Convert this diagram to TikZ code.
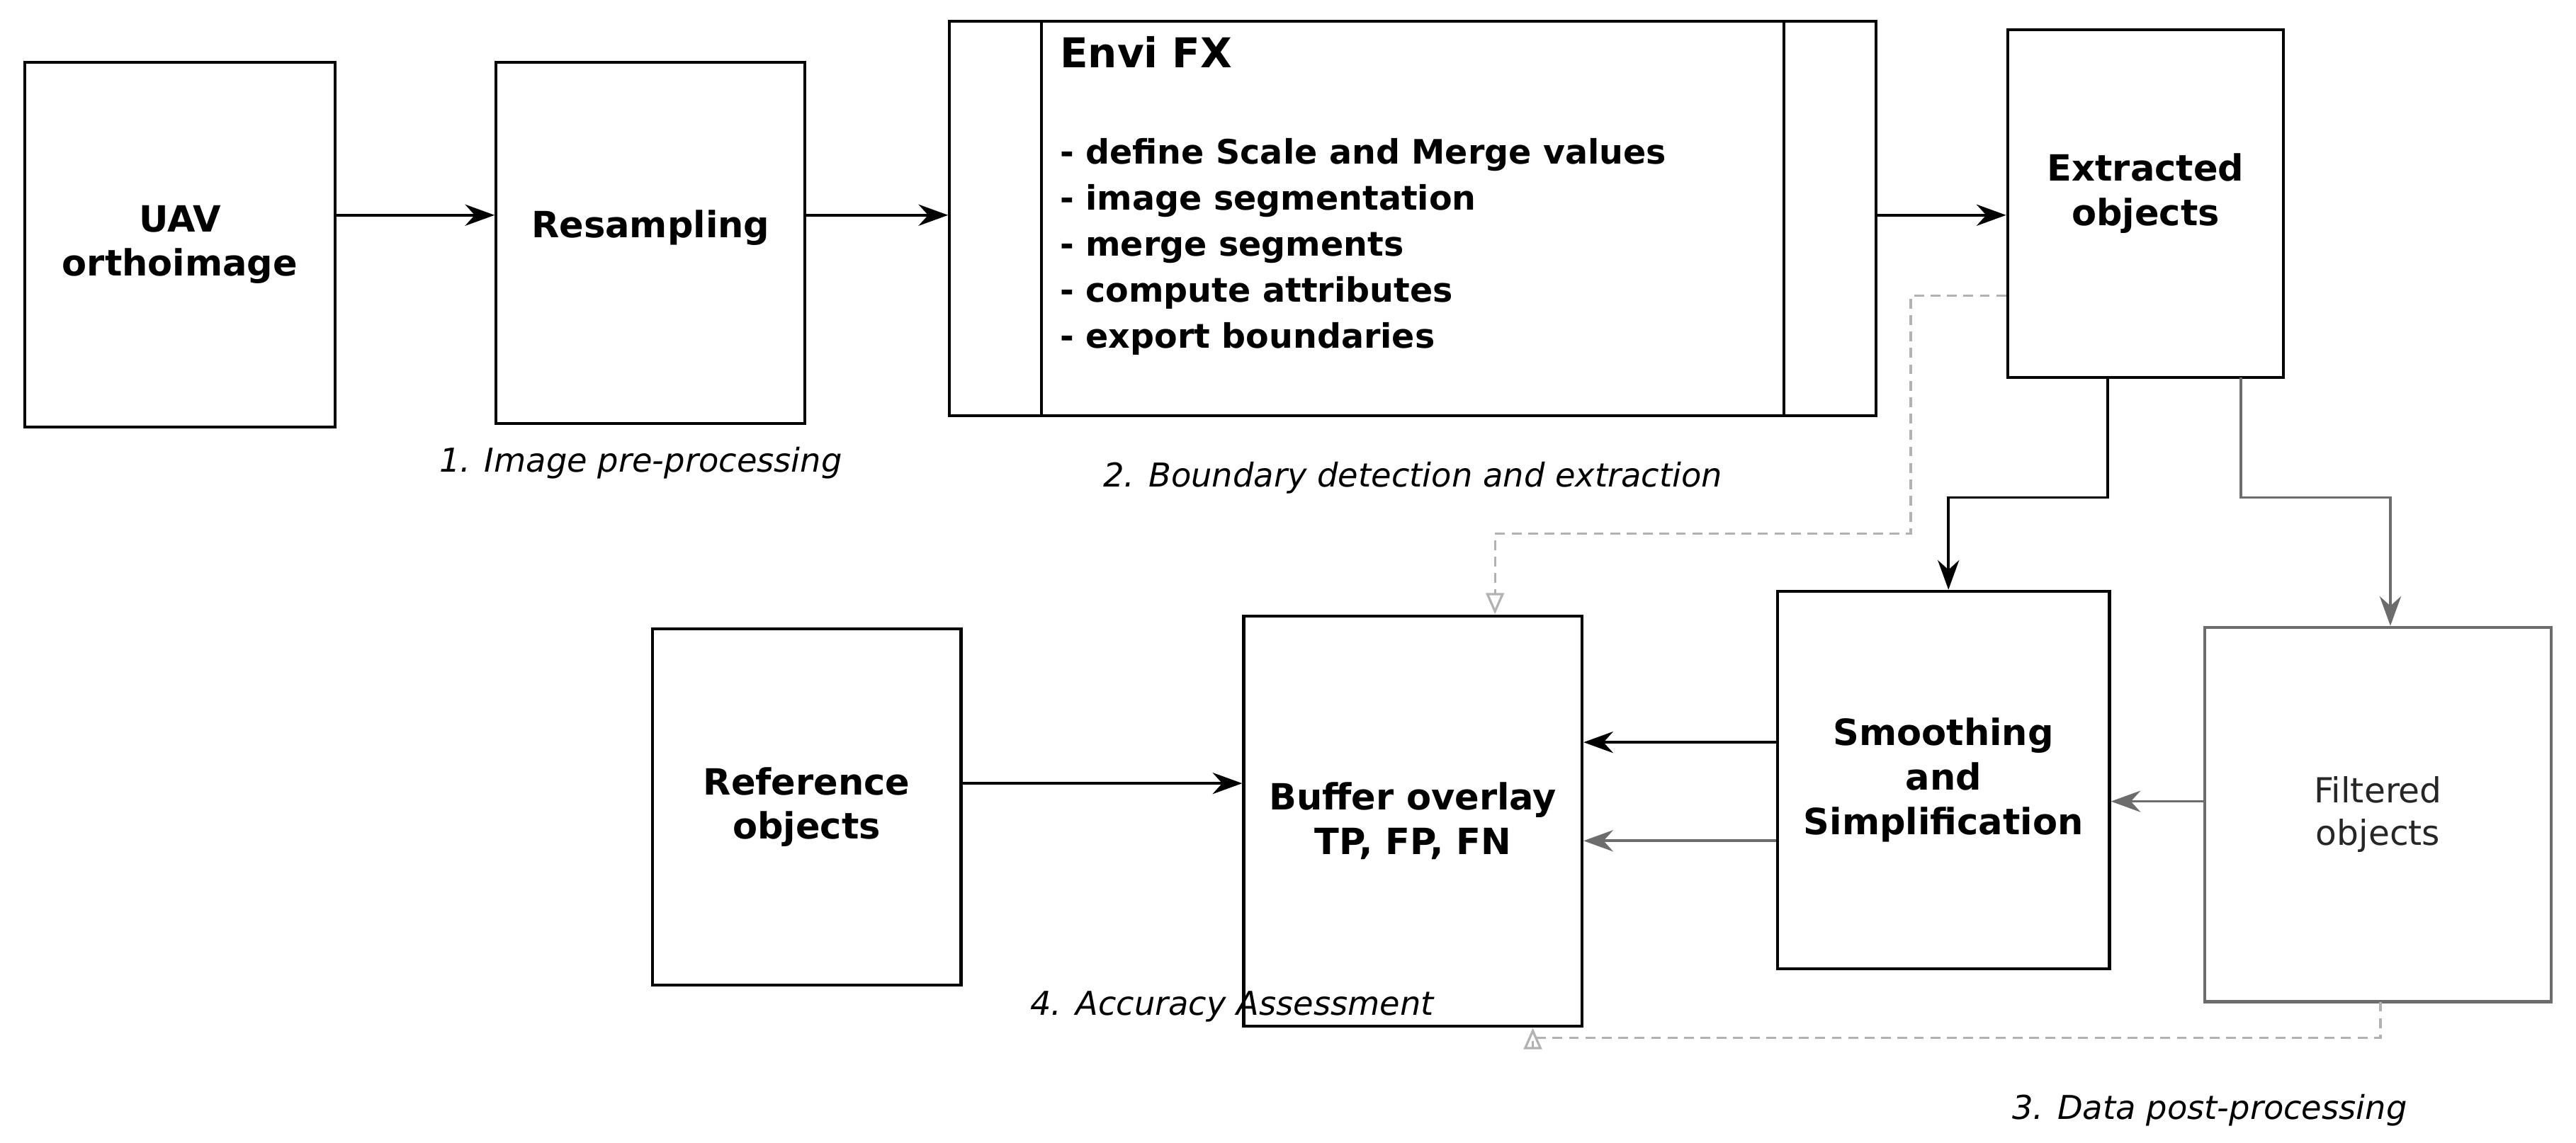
\documentclass[tikz,border=0pt]{standalone}
\usepackage{fontspec}
\setmainfont{DejaVu Sans}
\usetikzlibrary{arrows.meta}
\begin{document}
\begin{tikzpicture}[x=1pt,y=-1pt,
 box/.style={draw,line width=1.8pt,inner sep=0pt,align=center,font=\fontsize{22}{27}\selectfont\bfseries},
 arr/.style={line width=1.6pt,-{Stealth[length=18pt,width=13pt]}},
 garr/.style={arr,draw=gray!85!black},
 dsh/.style={draw=gray!60,line width=1.4pt,dash pattern=on 6pt off 4pt,-{Triangle[open,length=13pt,width=11pt]}},
 lab/.style={font=\fontsize{20}{24}\selectfont\itshape}]
\useasboundingbox (0,0) rectangle (1568,696);
\node[box,minimum width=189pt,minimum height=222pt] (uav) at (109.5,149) {UAV\\orthoimage};
\node[box,minimum width=188pt,minimum height=220pt] (res) at (396,148) {Resampling\\[-4pt]\mbox{}};
\node[draw,line width=1.8pt,minimum width=564pt,minimum height=240pt,inner sep=0pt] (env) at (860,133) {};
\draw[line width=1.8pt] (634,13) -- (634,253) (1086,13) -- (1086,253);
\node[anchor=north west,inner sep=0pt,font=\fontsize{25}{30}\selectfont\bfseries] (envt) at (645,22) {Envi FX};
\node[anchor=north west,inner sep=0pt,align=left,font=\fontsize{20.5}{28}\selectfont\bfseries] (envl) at (645,84) {- define Scale and Merge values\\- image segmentation\\- merge segments\\- compute attributes\\- export boundaries};
\node[box,minimum width=168pt,minimum height=212pt] (ext) at (1306,124) {Extracted\\objects\\[-10pt]\mbox{}};
\node[box,minimum width=188pt,minimum height=217pt] (ref) at (491,491.5) {Reference\\objects};
\node[box,minimum width=206pt,minimum height=250pt] (buf) at (860,500) {Buffer overlay\\TP, FP, FN};
\node[box,minimum width=202pt,minimum height=230pt] (smo) at (1183,475) {Smoothing\\and\\Simplification};
\node[box,draw=gray!85!black,font=\fontsize{21}{26}\selectfont,text=gray!30!black,minimum width=211pt,minimum height=228pt] (fil) at (1447.5,496) {Filtered\\objects};
\draw[arr] (uav.east|-0,131) -- (res.west|-0,131);
\draw[arr] (res.east|-0,131) -- (env.west|-0,131);
\draw[arr] (env.east|-0,131) -- (ext.west|-0,131);
\draw[arr] (1283,230) -- (1283,303) -- (1186,303) -- (smo.north-|1186,0);
\draw[garr] (1364,230) -- (1364,303) -- (1455,303) -- (fil.north-|1455,0);
\draw[dsh] (ext.west|-0,180) -- (1163,180) -- (1163,325) -- (910,325) -- (buf.north-|910,0);
\draw[arr] (smo.west|-0,452) -- (buf.east|-0,452);
\draw[garr] (smo.west|-0,512) -- (buf.east|-0,512);
\draw[garr] (fil.west|-0,488) -- (smo.east|-0,488);
\draw[arr] (ref.east|-0,477) -- (buf.west|-0,477);
\draw[dsh] (1449,610) -- (1449,632) -- (933,632) -- (buf.south-|933,0);
\node[lab] (l1) at (390,282) {1. Image pre-processing};
\node[lab] (l2) at (860,291) {2. Boundary detection and extraction};
\node[lab] (l4) at (750,613) {4. Accuracy Assessment};
\node[lab] (l3) at (1345,676) {3. Data post-processing};
\end{tikzpicture}
\end{document}
